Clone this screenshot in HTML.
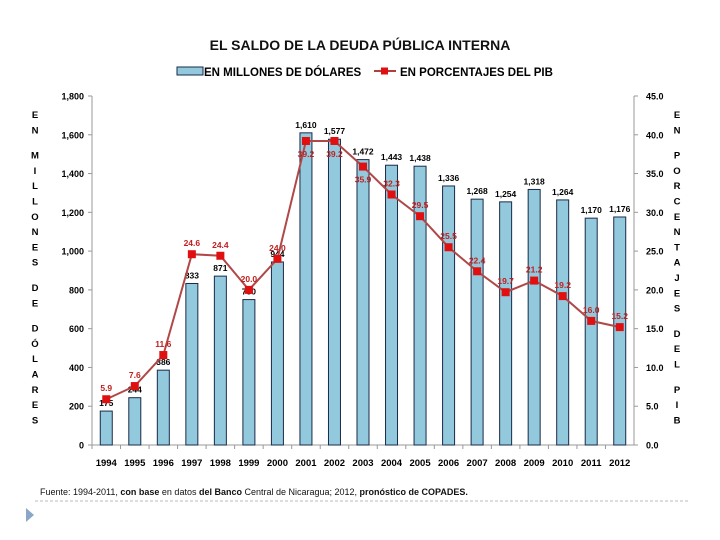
<!DOCTYPE html>
<html><head><meta charset="utf-8"><style>
body{margin:0;background:#fff;}
svg{display:block;font-family:"Liberation Sans",sans-serif;}
</style></head><body>
<svg id="c" width="720" height="540" viewBox="0 0 720 540">
<text x="360" y="50" text-anchor="middle" font-size="14" font-weight="bold" fill="#111">EL SALDO DE LA DEUDA PÚBLICA INTERNA</text>
<g>
<rect x="177" y="67" width="26" height="8" fill="#92c9dc" stroke="#1a2a4a"/>
<text x="204" y="76" font-size="11.5" font-weight="bold">EN MILLONES DE DÓLARES</text>
<line x1="374" y1="71" x2="396" y2="71" stroke="#b04040" stroke-width="2"/>
<rect x="381" y="67.5" width="7" height="7" fill="#e01010"/>
<text x="400" y="76" font-size="11.5" font-weight="bold">EN PORCENTAJES DEL PIB</text>
</g>
<g id="axes"></g>
<g id="bars"></g>
<g id="line"></g>
<text x="40" y="495" font-size="9" fill="#111">Fuente: 1994-2011, <tspan font-weight="bold">con base</tspan> en datos <tspan font-weight="bold">del Banco</tspan> Central de Nicaragua; 2012, <tspan font-weight="bold">pronóstico de COPADES.</tspan></text>
<line x1="35" y1="501" x2="688" y2="501" stroke="#bbb" stroke-dasharray="3,2"/>
<polygon points="26,508 34,515 26,522" fill="#8ba6c6"/>
</svg>
<script>
const years=["1994","1995","1996","1997","1998","1999","2000","2001","2002","2003","2004","2005","2006","2007","2008","2009","2010","2011","2012"];
const millions=[175,244,386,833,871,750,944,1610,1577,1472,1443,1438,1336,1268,1254,1318,1264,1170,1176];
const pctPIB=[5.9,7.6,11.6,24.6,24.4,20.0,24.0,39.2,39.2,35.9,32.3,29.5,25.5,22.4,19.7,21.2,19.2,16.0,15.2];
const leftTicks=[0,200,400,600,800,1000,1200,1400,1600,1800];
const rightTicks=[0,5,10,15,20,25,30,35,40,45];
const NS="http://www.w3.org/2000/svg";
const X0=92,X1=634,Y0=445,Y1=96;
const step=(X1-X0)/years.length;
const xc=i=>X0+step*(i+0.5);
const yL=v=>Y0-(v/1800)*(Y0-Y1);
const yR=v=>Y0-(v/45)*(Y0-Y1);
function mk(tag,attrs,parent,text){const e=document.createElementNS(NS,tag);for(const k in attrs)e.setAttribute(k,attrs[k]);if(text!==undefined)e.textContent=text;parent.appendChild(e);return e;}
const ax=document.getElementById('axes'),bg=document.getElementById('bars'),lg=document.getElementById('line');
let e;
e=mk('line',{x1:X0,y1:Y1,x2:X0,y2:Y0,stroke:'#999'},ax);


e=mk('line',{x1:X1,y1:Y1,x2:X1,y2:Y0,stroke:'#999'},ax);


e=mk('line',{x1:X0,y1:Y0,x2:X1,y2:Y0,stroke:'#999'},ax);


leftTicks.forEach(v=>{
 mk('line',{x1:X0-4,x2:X0,y1:yL(v),y2:yL(v),stroke:'#999'},ax);
 e=mk('text',{x:X0-8,y:yL(v)+3.5,'text-anchor':'end','font-size':9,'font-weight':'bold'},ax,v===0?'0':v.toLocaleString('en-US'));
 
 
});
rightTicks.forEach(v=>{
 mk('line',{x1:X1,x2:X1+4,y1:yR(v),y2:yR(v),stroke:'#999'},ax);
 e=mk('text',{x:X1+12,y:yR(v)+3.5,'font-size':9,'font-weight':'bold'},ax,v.toFixed(1));
 
 
});
years.forEach((y,i)=>{
 mk('line',{x1:X0+step*i,x2:X0+step*i,y1:Y0,y2:Y0+4,stroke:'#999'},ax);
 e=mk('text',{x:xc(i),y:466,'text-anchor':'middle','font-size':9.5,'font-weight':'bold'},ax,y);
 
 
});
const leftTitle="EN MILLONES DE DÓLARES".split(' ');
let yy=118;
leftTitle.forEach(w=>{[...w].forEach(ch=>{e=mk('text',{x:35,y:yy,'text-anchor':'middle','font-size':9.5,'font-weight':'bold'},ax,ch);yy+=15.3;});yy+=10;});
const rightTitle="EN PORCENTAJES DEL PIB".split(' ');
yy=118;
rightTitle.forEach(w=>{[...w].forEach(ch=>{e=mk('text',{x:677,y:yy,'text-anchor':'middle','font-size':9.5,'font-weight':'bold'},ax,ch);yy+=15.3;});yy+=10;});
millions.forEach((v,i)=>{
 const w=12;
 e=mk('rect',{x:xc(i)-w/2,y:yL(v),width:w,height:Y0-yL(v),fill:'#92c9dc',stroke:'#1a2a4a','stroke-width':1},bg);
 
 
 e=mk('text',{x:xc(i),y:yL(v)-5,'text-anchor':'middle','font-size':8.5,'font-weight':'bold'},bg,v.toLocaleString('en-US'));
 
 
});
e=mk('polyline',{points:pctPIB.map((v,i)=>xc(i)+','+yR(v)).join(' '),fill:'none',stroke:'#b04848','stroke-width':2},lg);


pctPIB.forEach((v,i)=>{
 e=mk('rect',{x:xc(i)-4,y:yR(v)-4,width:8,height:8,fill:'#e01010'},lg);
 
 
 const below=(i>=7&&i<=9);
 e=mk('text',{x:xc(i),y:below?yR(v)+16:yR(v)-8,'text-anchor':'middle','font-size':8.5,'font-weight':'bold',fill:'#c02020'},lg,v.toFixed(1));
 
 
});
</script>
</body></html>
